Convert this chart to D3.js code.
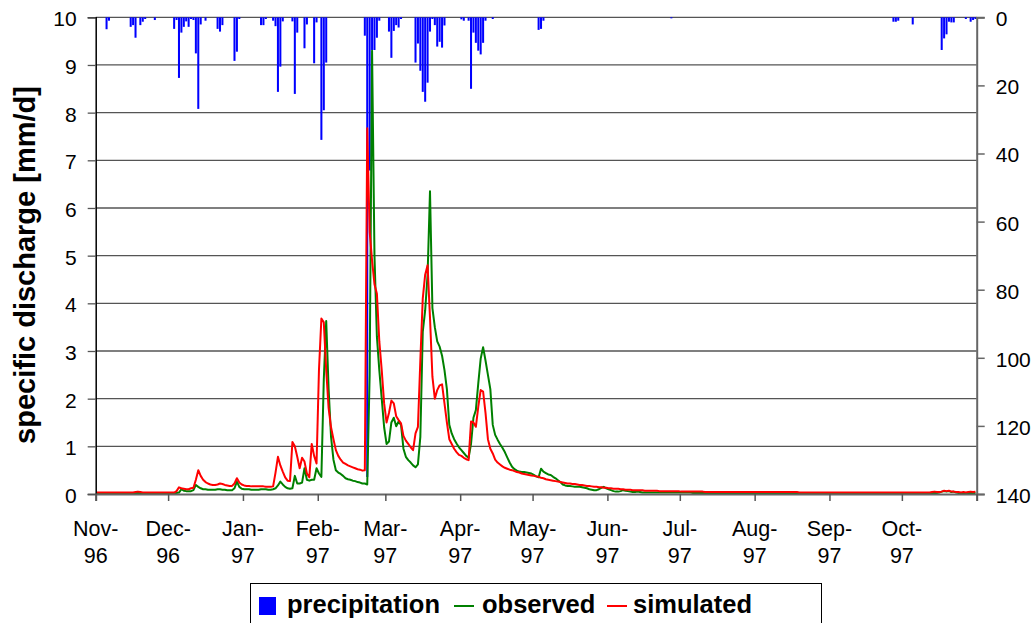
<!DOCTYPE html>
<html>
<head>
<meta charset="utf-8">
<script src="https://cdn.jsdelivr.net/npm/d3@7"></script>
<style>
  body { margin: 0; background: #fff; }
  text { font-family: "Liberation Sans", Arial, sans-serif; }
</style>
</head>
<body>
<div id="chart-area"></div>
<script>
// Daily series, 1 Nov 1996 .. 31 Oct 1997 (365 days)
const startDate = Date.UTC(1996, 10, 1);
const endDate = Date.UTC(1997, 10, 1);

const dischargeTicks = [0, 1, 2, 3, 4, 5, 6, 7, 8, 9, 10];
const precipTicks = [0, 20, 40, 60, 80, 100, 120, 140];

// precipitation [day index, mm]
const precipitation = [
    [4, 3.5], [5, 1.0], [14, 2.8], [15, 2.3], [16, 6.0], [18, 2.3], [19, 1.3], [20, 0.5], [24, 0.8],
    [32, 3.4], [33, 0.8], [34, 17.8], [35, 4.5], [36, 2.8], [37, 1.2], [38, 2.8], [39, 0.5], [40, 0.8],
    [41, 10.6], [42, 26.9], [43, 2.1], [45, 1.0], [50, 3.4], [51, 4.2], [52, 2.3], [57, 12.8], [58, 10.1],
    [59, 0.5], [68, 2.3], [69, 2.3], [70, 0.5], [73, 1.0], [74, 2.6], [75, 21.9], [76, 14.5], [77, 1.2],
    [81, 1.2], [82, 22.5], [83, 4.5], [86, 9.1], [87, 2.1], [90, 13.5], [91, 1.5], [93, 36.0], [94, 27.3],
    [95, 13.3], [111, 5.4], [112, 135.0], [113, 45.0], [114, 9.6], [115, 9.6], [116, 6.0], [117, 1.0],
    [121, 4.2], [122, 11.9], [123, 4.0], [124, 2.3], [125, 3.0], [126, 0.5], [132, 13.3], [133, 7.7],
    [134, 15.7], [135, 21.9], [136, 24.8], [137, 19.2], [138, 4.2], [139, 0.5], [140, 2.3], [141, 8.6],
    [142, 7.2], [143, 8.9], [144, 2.4], [151, 0.6], [152, 1.0], [154, 1.0], [155, 21.0], [156, 4.5],
    [157, 7.5], [158, 9.8], [159, 10.9], [160, 7.5], [161, 1.0], [164, 0.5], [183, 3.7], [184, 3.4],
    [185, 1.0], [238, 0.3], [330, 1.3], [331, 1.3], [332, 1.0], [338, 2.1], [350, 9.6], [351, 6.2],
    [352, 5.0], [353, 1.3], [354, 1.5], [355, 1.5], [360, 0.5], [362, 1.3], [363, 0.8], [364, 0.5]
];

// observed specific discharge [mm/d]
const observed = [
    // Nov
    0.02, 0.02, 0.02, 0.02, 0.02, 0.02, 0.02, 0.02, 0.02, 0.02, 0.02, 0.02, 0.02, 0.02, 0.02,
    0.02, 0.02, 0.02, 0.02, 0.02, 0.02, 0.02, 0.02, 0.02, 0.02, 0.02, 0.02, 0.02, 0.02, 0.02,
    // Dec
    0.02, 0.02, 0.02, 0.02, 0.03, 0.10, 0.07, 0.06, 0.06, 0.06, 0.08, 0.19, 0.15, 0.12, 0.10, 0.10,
    0.09, 0.09, 0.09, 0.09, 0.10, 0.10, 0.09, 0.09, 0.08, 0.08, 0.08, 0.12, 0.26, 0.15, 0.11,
    // Jan
    0.10, 0.10, 0.10, 0.09, 0.09, 0.09, 0.09, 0.10, 0.10, 0.10, 0.09, 0.09, 0.10, 0.12, 0.18, 0.26,
    0.20, 0.15, 0.12, 0.11, 0.12, 0.38, 0.22, 0.22, 0.24, 0.54, 0.30, 0.28, 0.30, 0.30, 0.54,
    // Feb
    0.43, 0.36, 2.40, 3.63, 2.20, 1.20, 0.72, 0.50, 0.45, 0.42, 0.38, 0.33, 0.31, 0.30, 0.28, 0.27,
    0.25, 0.24, 0.22, 0.22, 0.20, 2.50, 9.30, 5.00, 3.30, 2.60, 2.00, 1.40,
    // Mar
    1.05, 1.10, 1.50, 1.60, 1.42, 1.52, 1.45, 0.95, 0.78, 0.71, 0.66, 0.60, 0.56, 0.62, 1.20, 3.40,
    3.85, 4.60, 6.35, 3.90, 3.50, 3.20, 3.09, 2.90, 2.60, 2.20, 1.45, 1.27, 1.15, 1.06, 0.98,
    // Apr
    0.92, 0.86, 0.80, 0.76, 1.05, 1.60, 1.76, 2.32, 2.84, 3.08, 2.80, 2.50, 2.20, 1.45, 1.24,
    1.14, 1.05, 0.97, 0.88, 0.77, 0.66, 0.57, 0.52, 0.49, 0.47, 0.46, 0.46, 0.45, 0.44, 0.43,
    // May
    0.40, 0.37, 0.35, 0.53, 0.47, 0.44, 0.41, 0.40, 0.36, 0.33, 0.29, 0.25, 0.20, 0.18, 0.17, 0.17,
    0.16, 0.15, 0.15, 0.15, 0.14, 0.13, 0.12, 0.10, 0.09, 0.08, 0.08, 0.10, 0.13, 0.15, 0.12,
    // Jun
    0.10, 0.08, 0.06, 0.05, 0.05, 0.06, 0.08, 0.07, 0.06, 0.05, 0.04, 0.04, 0.05, 0.04, 0.03,
    0.03, 0.03, 0.03, 0.03, 0.03, 0.03, 0.03, 0.03, 0.03, 0.03, 0.03, 0.03, 0.03, 0.03, 0.03,
    // Jul
    0.03, 0.03, 0.03, 0.03, 0.03, 0.02, 0.02, 0.02, 0.02, 0.02, 0.02, 0.02, 0.02, 0.02, 0.02, 0.02,
    0.02, 0.02, 0.02, 0.02, 0.02, 0.02, 0.02, 0.02, 0.02, 0.02, 0.02, 0.02, 0.02, 0.02, 0.02,
    // Aug
    0.02, 0.02, 0.02, 0.02, 0.02, 0.02, 0.02, 0.02, 0.02, 0.02, 0.02, 0.02, 0.02, 0.02, 0.02, 0.02,
    0.02, 0.02, 0.02, 0.02, 0.02, 0.02, 0.02, 0.02, 0.02, 0.02, 0.02, 0.02, 0.02, 0.02, 0.02,
    // Sep
    0.02, 0.02, 0.02, 0.02, 0.02, 0.02, 0.02, 0.02, 0.02, 0.02, 0.02, 0.02, 0.02, 0.02, 0.02,
    0.02, 0.02, 0.02, 0.02, 0.02, 0.02, 0.02, 0.02, 0.02, 0.02, 0.02, 0.02, 0.02, 0.02, 0.02,
    // Oct
    0.02, 0.02, 0.02, 0.02, 0.02, 0.02, 0.02, 0.02, 0.02, 0.02, 0.02, 0.02, 0.02, 0.02, 0.02, 0.03,
    0.05, 0.06, 0.05, 0.06, 0.04, 0.05, 0.03, 0.02, 0.02, 0.02, 0.02, 0.02, 0.02, 0.02, 0.02
];

// simulated specific discharge [mm/d]
const simulated = [
    // Nov
    0.03, 0.03, 0.03, 0.03, 0.03, 0.03, 0.03, 0.03, 0.03, 0.03, 0.03, 0.03, 0.03, 0.03, 0.03,
    0.03, 0.04, 0.05, 0.04, 0.03, 0.03, 0.03, 0.03, 0.03, 0.03, 0.03, 0.03, 0.03, 0.03, 0.03,
    // Dec
    0.03, 0.03, 0.03, 0.06, 0.14, 0.12, 0.11, 0.10, 0.10, 0.12, 0.13, 0.30, 0.50, 0.38, 0.30, 0.25,
    0.22, 0.20, 0.19, 0.19, 0.20, 0.22, 0.21, 0.19, 0.18, 0.17, 0.17, 0.22, 0.33, 0.24, 0.20,
    // Jan
    0.18, 0.17, 0.17, 0.16, 0.16, 0.16, 0.16, 0.16, 0.16, 0.15, 0.15, 0.15, 0.16, 0.45, 0.78, 0.60,
    0.47, 0.35, 0.28, 0.27, 1.09, 1.00, 0.78, 0.54, 0.76, 0.68, 0.43, 0.35, 1.05, 0.80, 0.64,
    // Feb
    2.60, 3.68, 3.60, 2.60, 1.80, 1.40, 1.15, 0.92, 0.80, 0.72, 0.66, 0.63, 0.60, 0.58, 0.56, 0.54,
    0.52, 0.51, 0.49, 0.50, 7.67, 5.50, 4.90, 4.40, 4.20, 3.20, 2.60, 1.90,
    // Mar
    1.50, 1.70, 1.96, 1.90, 1.63, 1.55, 1.48, 1.22, 1.12, 1.05, 0.98, 0.92, 1.27, 1.41, 2.80, 4.10,
    4.60, 4.80, 3.70, 2.46, 2.00, 2.18, 2.28, 2.30, 1.90, 1.50, 1.15, 1.05, 0.95, 0.88, 0.82,
    // Apr
    0.80, 0.76, 0.73, 0.71, 1.52, 1.50, 1.41, 1.83, 2.18, 2.15, 1.70, 1.15, 0.95, 0.85, 0.72,
    0.66, 0.62, 0.58, 0.55, 0.53, 0.51, 0.50, 0.48, 0.46, 0.45, 0.43, 0.42, 0.41, 0.40, 0.39,
    // May
    0.38, 0.37, 0.36, 0.34, 0.33, 0.31, 0.30, 0.29, 0.28, 0.27, 0.26, 0.25, 0.24, 0.23, 0.22, 0.22,
    0.21, 0.21, 0.20, 0.19, 0.19, 0.18, 0.17, 0.17, 0.16, 0.15, 0.15, 0.14, 0.14, 0.13, 0.13,
    // Jun
    0.12, 0.12, 0.11, 0.11, 0.11, 0.10, 0.10, 0.09, 0.09, 0.09, 0.08, 0.08, 0.08, 0.08, 0.08,
    0.07, 0.07, 0.07, 0.07, 0.07, 0.07, 0.06, 0.06, 0.06, 0.06, 0.06, 0.06, 0.06, 0.06, 0.06,
    // Jul
    0.05, 0.05, 0.05, 0.05, 0.05, 0.05, 0.05, 0.05, 0.05, 0.05, 0.04, 0.04, 0.04, 0.04, 0.04, 0.04,
    0.04, 0.04, 0.04, 0.04, 0.04, 0.04, 0.04, 0.04, 0.04, 0.04, 0.04, 0.04, 0.04, 0.04, 0.04,
    // Aug
    0.04, 0.04, 0.04, 0.04, 0.04, 0.04, 0.04, 0.04, 0.04, 0.04, 0.04, 0.04, 0.04, 0.04, 0.04, 0.04,
    0.04, 0.04, 0.03, 0.03, 0.03, 0.03, 0.03, 0.03, 0.03, 0.03, 0.03, 0.03, 0.03, 0.03, 0.03,
    // Sep
    0.03, 0.03, 0.03, 0.03, 0.03, 0.03, 0.03, 0.03, 0.03, 0.03, 0.03, 0.03, 0.03, 0.03, 0.03,
    0.03, 0.03, 0.03, 0.03, 0.03, 0.03, 0.03, 0.03, 0.03, 0.03, 0.03, 0.03, 0.03, 0.03, 0.03,
    // Oct
    0.03, 0.03, 0.03, 0.03, 0.03, 0.03, 0.03, 0.03, 0.03, 0.03, 0.03, 0.03, 0.04, 0.05, 0.04, 0.04,
    0.05, 0.07, 0.06, 0.07, 0.05, 0.05, 0.04, 0.04, 0.03, 0.04, 0.03, 0.04, 0.05, 0.04, 0.05
];

const legendItems = ["precipitation", "observed", "simulated"];

// SVG size
const margin = {top: 17.3, right: 58.3, bottom: 129, left: 95.7};
const W = 1035, H = 623;
const width = W - margin.left - margin.right;
const height = H - margin.top - margin.bottom;

const svg = d3.select("#chart-area").append("svg")
    .attr("width", W)
    .attr("height", H);

const g = svg.append("g")
    .attr("transform", "translate(" + margin.left + "," + margin.top + ")");

// scales
const x = d3.scaleUtc().domain([startDate, endDate]).range([0, width]);
const y = d3.scaleLinear().domain([0, 10]).range([height, 0]);
const y2 = d3.scaleLinear().domain([0, 140]).range([0, height]);

const dayMid = i => x(d3.utcHour.offset(d3.utcDay.offset(new Date(startDate), i), 12));
const dayW = x(Date.UTC(1996, 10, 2)) - x(startDate);

// gridlines
g.append("g")
    .selectAll("line")
    .data(dischargeTicks.filter(t => t > 0))
    .enter().append("line")
    .attr("x1", 0).attr("x2", width)
    .attr("y1", d => y(d)).attr("y2", d => y(d))
    .style("stroke", "#555")
    .style("stroke-width", 1.3);

// precipitation bars hanging from the top
g.append("g")
    .selectAll("rect")
    .data(precipitation)
    .enter().append("rect")
    .attr("x", d => dayMid(d[0]) - dayW * 0.42)
    .attr("y", 0)
    .attr("width", dayW * 0.84)
    .attr("height", d => y2(d[1]))
    .style("fill", "#0000ff");

// discharge lines
const line = d3.line()
    .x((d, i) => dayMid(i))
    .y(d => y(d));

g.append("path")
    .datum(observed)
    .attr("d", line)
    .style("fill", "none")
    .style("stroke", "#008000")
    .style("stroke-width", 2)
    .style("stroke-linejoin", "round");

g.append("path")
    .datum(simulated)
    .attr("d", line)
    .style("fill", "none")
    .style("stroke", "#ff0000")
    .style("stroke-width", 2)
    .style("stroke-linejoin", "round");

// left axis
const yAxis = g.append("g")
    .call(d3.axisLeft(y).tickValues(dischargeTicks).tickSize(8).tickPadding(11));
yAxis.select(".domain").style("stroke", "#000").style("stroke-width", 1.5);
yAxis.selectAll(".tick line").style("stroke", "#555").style("stroke-width", 1.3);
yAxis.selectAll("text").style("font-size", "21px").attr("dy", "0.4em").style("fill", "#000");

// right axis
const y2Axis = g.append("g")
    .attr("transform", "translate(" + width + ",0)")
    .call(d3.axisRight(y2).tickValues(precipTicks).tickSize(8).tickPadding(11));
y2Axis.select(".domain").style("stroke", "#666").style("stroke-width", 2);
y2Axis.selectAll(".tick line").style("stroke", "#666").style("stroke-width", 1.5);
y2Axis.selectAll("text").style("font-size", "21px").attr("dy", "0.4em").style("fill", "#000");

// bottom axis with two-line month labels
const xAxis = g.append("g")
    .attr("transform", "translate(0," + height + ")")
    .call(d3.axisBottom(x).ticks(d3.utcMonth.every(1)).tickSize(7).tickFormat(""));
xAxis.select(".domain").style("stroke", "#666").style("stroke-width", 2);
xAxis.selectAll(".tick line").style("stroke", "#555").style("stroke-width", 1.5);

const monthTicks = d3.utcMonth.range(new Date(startDate), new Date(endDate));
const fmtMon = d3.utcFormat("%b-");
const fmtYr = d3.utcFormat("%y");
const mLabels = g.append("g").selectAll("text")
    .data(monthTicks)
    .enter().append("text")
    .attr("text-anchor", "middle")
    .style("font-size", "21.5px")
    .style("fill", "#000");
mLabels.append("tspan").attr("x", d => x(d)).attr("y", height + 42).text(d => fmtMon(d));
mLabels.append("tspan").attr("x", d => x(d)).attr("y", height + 69.5).text(d => fmtYr(d));

// y axis title
svg.append("text")
    .attr("transform", "translate(34.5,265) rotate(-90)")
    .attr("text-anchor", "middle")
    .style("font-size", "29px")
    .style("font-weight", "bold")
    .text("specific discharge [mm/d]");

// legend
const legend = svg.append("g");
legend.append("rect")
    .attr("x", 250.5).attr("y", 583.5)
    .attr("width", 571).attr("height", 60)
    .style("fill", "#fff")
    .style("stroke", "#000")
    .style("stroke-width", 1);

legend.append("rect")
    .attr("x", 259).attr("y", 597).attr("width", 17).attr("height", 18)
    .style("fill", "#0000ff");
legend.append("line")
    .attr("x1", 454).attr("x2", 474).attr("y1", 606).attr("y2", 606)
    .style("stroke", "#008000").style("stroke-width", 2);
legend.append("line")
    .attr("x1", 607).attr("x2", 627).attr("y1", 606).attr("y2", 606)
    .style("stroke", "#ff0000").style("stroke-width", 2);

const legendX = [287, 482, 633];
legend.selectAll("text.leg")
    .data(legendItems)
    .enter().append("text")
    .attr("class", "leg")
    .attr("x", (d, i) => legendX[i])
    .attr("y", 613)
    .style("font-size", "25.5px")
    .style("font-weight", "bold")
    .text(d => d);
</script>
</body>
</html>
